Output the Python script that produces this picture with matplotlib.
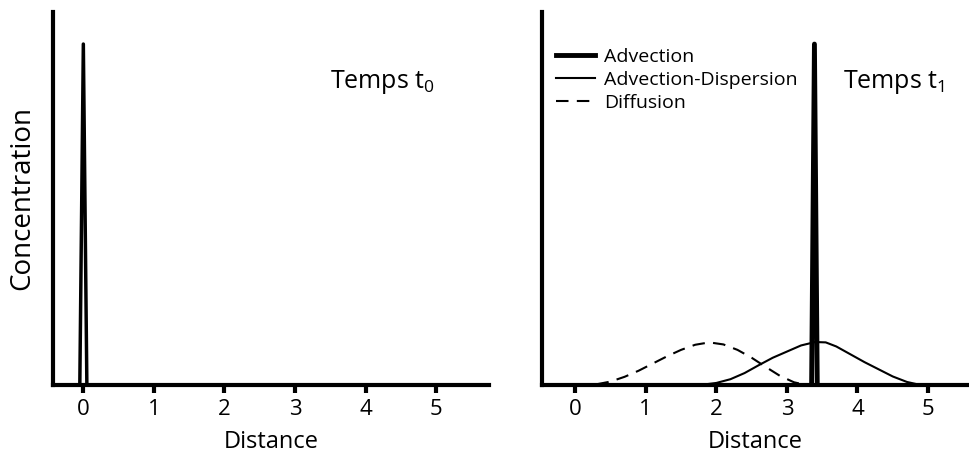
import matplotlib
matplotlib.use('Agg')
import matplotlib.pyplot as plt

plt.rcParams['font.family'] = ['Open Sans', 'DejaVu Sans']
plt.rcParams['mathtext.fontset'] = 'custom'
plt.rcParams['mathtext.rm'] = 'Open Sans'
plt.rcParams['mathtext.it'] = 'Open Sans'

# pulse at t0 (advection spike)
spike0_x = [-0.05, 0.0, 0.05]
spike_y = [0, 1.0, 0]

# pulse at t1
spike1_x = [3.35, 3.39, 3.43]

# advection-dispersion curve
disp_x = [1.77, 2.0, 2.2, 2.4, 2.6, 2.8, 3.0, 3.2, 3.4, 3.55, 3.7, 3.9, 4.1, 4.3, 4.5, 4.7, 4.85]
disp_y = [0.0, 0.006, 0.017, 0.035, 0.058, 0.08, 0.098, 0.116, 0.126, 0.125, 0.113, 0.09, 0.067, 0.046, 0.025, 0.009, 0.002]

# diffusion curve
diff_x = [0.3, 0.5, 0.7, 0.9, 1.1, 1.3, 1.5, 1.7, 1.9, 2.1, 2.3, 2.5, 2.7, 2.9, 3.1, 3.25]
diff_y = [0.002, 0.01, 0.024, 0.042, 0.063, 0.084, 0.103, 0.118, 0.125, 0.119, 0.103, 0.08, 0.053, 0.027, 0.008, 0.001]

xticks = [0, 1, 2, 3, 4, 5]

fig = plt.figure(figsize=(9.69, 4.54), dpi=100)
ax1 = fig.add_axes([53 / 969, 69 / 454, 436 / 969, 373 / 454])
ax2 = fig.add_axes([542 / 969, 69 / 454, 427 / 969, 373 / 454])


def style(ax, xmin, xmax):
    ax.set_xlim(xmin, xmax)
    ax.set_ylim(0, 1.094)
    for s in ['top', 'right']:
        ax.spines[s].set_visible(False)
    for s in ['left', 'bottom']:
        ax.spines[s].set_linewidth(3)
    ax.set_yticks([])
    ax.set_xticks(xticks)
    ax.tick_params(axis='x', length=6, width=3, labelsize=16, pad=4)
    ax.set_xlabel('Distance', fontsize=17, labelpad=7)


style(ax1, -0.43, 5.75)
style(ax2, -0.47, 5.58)

ax1.plot(spike0_x, spike_y, color='black', lw=2.5)
ax1.set_ylabel('Concentration', fontsize=20, labelpad=12)
ax1.text(3.5, 0.87, 'Temps t$_0$', fontsize=18)

ax2.plot(spike1_x, spike_y, color='black', lw=2.5, label='Advection')
ax2.plot(disp_x, disp_y, color='black', lw=1.5, label='Advection-Dispersion')
ax2.plot(diff_x, diff_y, color='black', lw=1.5, ls=(0, (6, 4)), label='Diffusion')
ax2.text(3.8, 0.87, 'Temps t$_1$', fontsize=18)

handles, labels = ax2.get_legend_handles_labels()
handles[0].set_linewidth(3.5)
ax2.legend(handles, labels, loc='upper left', bbox_to_anchor=(0.0, 0.94),
           frameon=False, fontsize=14, handlelength=2.0, handletextpad=0.5,
           labelspacing=0.25, borderaxespad=0.3)

fig.savefig('out.png', dpi=100)
